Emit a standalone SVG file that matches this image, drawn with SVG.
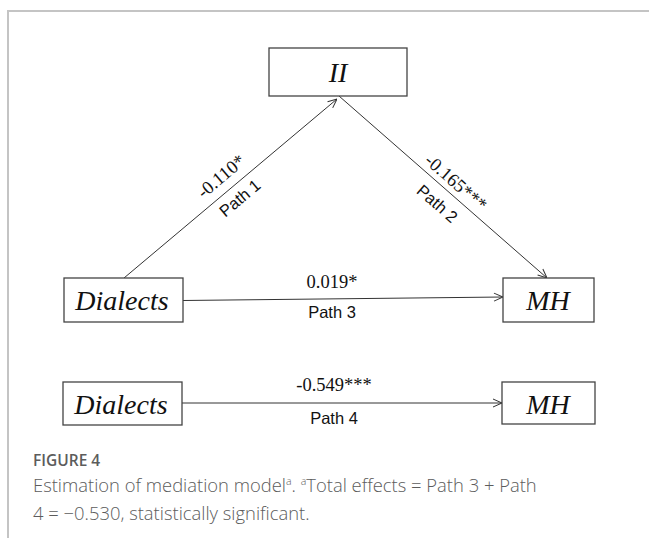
<svg xmlns="http://www.w3.org/2000/svg" width="649" height="538" viewBox="0 0 649 538">
<defs>
<style>
.box{fill:#fff;stroke:#444;stroke-width:1.3}
.node{font-family:"Liberation Serif","Times New Roman",serif;font-style:italic;font-size:28px;fill:#111;text-anchor:middle}
.num{font-family:"Liberation Serif","Times New Roman",serif;font-size:18.5px;fill:#111;text-anchor:middle}
.pth{font-family:"Liberation Sans",Arial,sans-serif;font-size:16.5px;fill:#111;text-anchor:middle}
.edge{stroke:#333;stroke-width:1;fill:none;marker-end:url(#arr)}
.cap{font-family:"Open Sans","Noto Sans",sans-serif;fill:#5c5c5c}
</style>
<marker id="arr" viewBox="0 0 10 10" refX="10" refY="5" markerWidth="10" markerHeight="10" markerUnits="userSpaceOnUse" orient="auto">
<path d="M1,1 L10,5 L1,9" fill="none" stroke="#333" stroke-width="1"/>
</marker>
</defs>
<rect width="649" height="538" fill="#fff"/>
<g id="frame" stroke="#c4c4c4" stroke-width="2" fill="none">
<path d="M8,538 V11 H649"/>
</g>
<g id="connectors">
<line class="edge" x1="124" y1="278" x2="337" y2="99"/>
<line class="edge" x1="339" y1="96" x2="547" y2="278"/>
<line class="edge" x1="183" y1="300.5" x2="503" y2="297"/>
<line class="edge" x1="182" y1="403" x2="502" y2="403"/>
<text class="num" transform="translate(225,181) rotate(-40)">-0.110*</text>
<text class="pth" transform="translate(243.5,202.5) rotate(-40)">Path 1</text>
<text class="num" transform="translate(452,187) rotate(41.2)">-0.165***</text>
<text class="pth" transform="translate(433.5,208) rotate(41.2)">Path 2</text>
<text class="num" x="332" y="288">0.019*</text>
<text class="pth" x="332" y="318">Path 3</text>
<text class="num" x="334" y="391">-0.549***</text>
<text class="pth" x="334" y="424">Path 4</text>
</g>
<g id="node-II">
<rect class="box" x="269" y="48" width="138" height="48"/>
<text class="node" x="338" y="82">II</text>
</g>
<g id="node-dialects1">
<rect class="box" x="64" y="278" width="119" height="44"/>
<text class="node" x="122" y="310">Dialects</text>
</g>
<g id="node-mh1">
<rect class="box" x="503" y="278" width="91" height="44"/>
<text class="node" x="548" y="310">MH</text>
</g>
<g id="node-dialects2">
<rect class="box" x="63" y="382" width="119" height="43"/>
<text class="node" x="121" y="414">Dialects</text>
</g>
<g id="node-mh2">
<rect class="box" x="502" y="382" width="93" height="42"/>
<text class="node" x="548" y="414">MH</text>
</g>
<g id="caption">
<text class="cap" x="33" y="466" font-size="15.5" font-weight="600">FIGURE 4</text>
<text class="cap" x="33" y="492" font-size="18.4" font-weight="300">Estimation of mediation model<tspan font-size="10.5" dy="-7">a</tspan><tspan dy="7">. </tspan><tspan font-size="10.5" dy="-7">a</tspan><tspan dy="7">Total effects = Path 3 + Path</tspan></text>
<text class="cap" x="33" y="520" font-size="18.4" font-weight="300">4 = −0.530, statistically significant.</text>
</g>
</svg>
